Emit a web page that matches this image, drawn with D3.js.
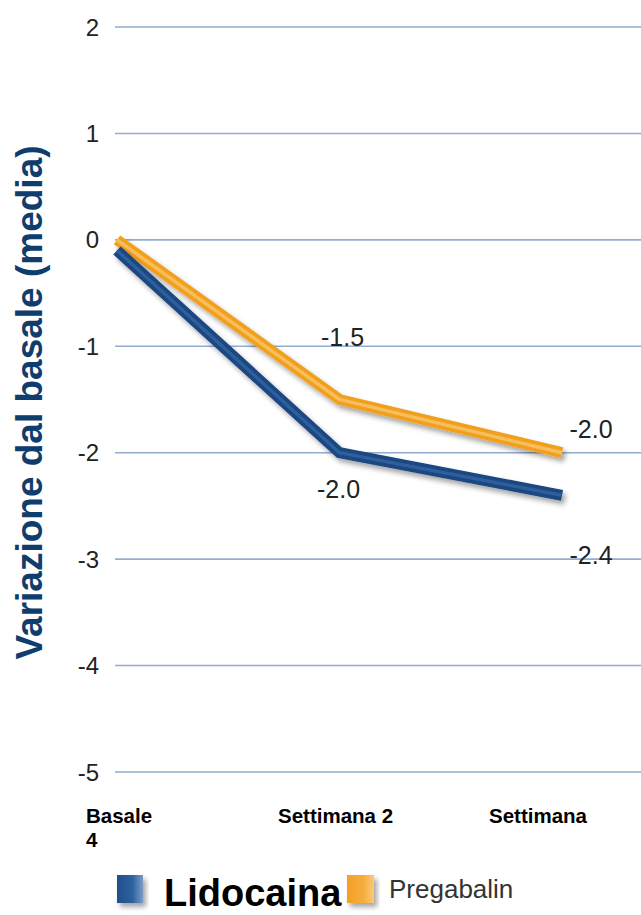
<!DOCTYPE html>
<html>
<head>
<meta charset="utf-8">
<script src="https://cdn.jsdelivr.net/npm/d3@7/dist/d3.min.js"></script>
<style>
  html, body { margin: 0; padding: 0; background: #fff; }
  svg { display: block; }
</style>
</head>
<body>
<script>
// Time points and mean change from baseline for each treatment
const categories = ["Basale", "Settimana 2", "Settimana 4"];
const lidocaina = [-0.1, -2.0, -2.4];
const pregabalin = [0.0, -1.5, -2.0];
const yTicks = [2, 1, 0, -1, -2, -3, -4, -5];
// Axis labels as they are laid out (the last one wraps onto a second line)
const xLabelRow1 = ["Basale", "Settimana 2", "Settimana"];
const xLabelRow2 = ["4"];
const seriesNames = ["Lidocaina", "Pregabalin"];
const yTitle = "Variazione dal basale (media)";

const W = 641, H = 915;
const svg = d3.select("body").append("svg").attr("width", W).attr("height", H);
const defs = svg.append("defs");

const shadow = defs.append("filter").attr("id", "shadow")
  .attr("x", "-20%").attr("y", "-20%").attr("width", "140%").attr("height", "160%");
shadow.append("feDropShadow").attr("dx", 3).attr("dy", 4)
  .attr("stdDeviation", 2.5).attr("flood-color", "#000").attr("flood-opacity", 0.35);

const gBlue = defs.append("linearGradient").attr("id", "gBlue");
gBlue.append("stop").attr("offset", "0%").attr("stop-color", "#1f4f8c");
gBlue.append("stop").attr("offset", "60%").attr("stop-color", "#2f629f");
gBlue.append("stop").attr("offset", "100%").attr("stop-color", "#7d9cc6");
const gOrange = defs.append("linearGradient").attr("id", "gOrange");
gOrange.append("stop").attr("offset", "0%").attr("stop-color", "#f3a024");
gOrange.append("stop").attr("offset", "60%").attr("stop-color", "#f6ad3e");
gOrange.append("stop").attr("offset", "100%").attr("stop-color", "#fbc978");

const x = d3.scalePoint().domain(categories).range([117, 562]);
const y = d3.scaleLinear().domain([-5, 2]).range([772, 27]);

// Horizontal gridlines
svg.append("g").selectAll("line").data(yTicks).join("line")
  .attr("x1", 115).attr("x2", W)
  .attr("y1", d => y(d)).attr("y2", d => y(d))
  .attr("stroke", "#93acd0").attr("stroke-width", 1.6);

// Y tick labels
svg.append("g").selectAll("text").data(yTicks).join("text")
  .attr("x", 99).attr("y", d => y(d)).attr("dy", "0.36em")
  .attr("text-anchor", "end")
  .attr("font-family", "Liberation Sans, Arial, sans-serif")
  .attr("font-size", 24).attr("fill", "#222")
  .text(d => d);

// Y axis title
svg.append("text")
  .attr("transform", `translate(42,${(y(2) + y(-5)) / 2 + 3}) rotate(-90)`)
  .attr("text-anchor", "middle")
  .attr("font-family", "Liberation Sans, Arial, sans-serif")
  .attr("font-weight", "bold").attr("font-size", 37).attr("fill", "#0f3d6d")
  .text(yTitle);

// X labels
const xl = svg.append("g")
  .attr("font-family", "Liberation Sans, Arial, sans-serif")
  .attr("font-weight", "bold").attr("font-size", 20.5).attr("fill", "#000");
xl.selectAll("text.r1").data(xLabelRow1).join("text").attr("class", "r1")
  .attr("x", (d, i) => [86, 278, 489][i]).attr("y", 823).text(d => d);
xl.selectAll("text.r2").data(xLabelRow2).join("text").attr("class", "r2")
  .attr("x", 86).attr("y", 847).text(d => d);

// Lines
const line = d3.line().x((d, i) => x(categories[i])).y(d => y(d));
const series = [
  { values: pregabalin, outer: "#f0a01c", inner: "#f8bd5c" },
  { values: lidocaina, outer: "#1a4681", inner: "#2d5f9c" }
];
series.forEach(s => {
  const g = svg.append("g").attr("filter", "url(#shadow)");
  g.append("path").attr("d", line(s.values)).attr("fill", "none")
    .attr("stroke", s.outer).attr("stroke-width", 11).attr("stroke-linejoin", "miter");
  g.append("path").attr("d", line(s.values)).attr("fill", "none")
    .attr("stroke", s.inner).attr("stroke-width", 3.5).attr("stroke-linejoin", "miter");
});

// Value labels
const labelFont = "Liberation Sans, Arial, sans-serif";
const valueLabels = [
  { i: 1, v: pregabalin[1], dx: 3, dy: -54 },
  { i: 2, v: pregabalin[2], dx: 29, dy: -15 },
  { i: 1, v: lidocaina[1], dx: -1, dy: 45 },
  { i: 2, v: lidocaina[2], dx: 29, dy: 69 }
];
svg.append("g").selectAll("text").data(valueLabels).join("text")
  .attr("x", d => x(categories[d.i]) + d.dx)
  .attr("y", d => y(d.v) + d.dy)
  .attr("text-anchor", "middle")
  .attr("font-family", labelFont).attr("font-size", 25).attr("fill", "#222")
  .text(d => d3.format(".1f")(d.v).replace("−", "-"));

// Legend
const lg = svg.append("g");
lg.append("rect").attr("x", 117).attr("y", 875).attr("width", 26).attr("height", 28)
  .attr("fill", "url(#gBlue)").attr("filter", "url(#shadow)");
lg.append("text").attr("x", 164).attr("y", 906)
  .attr("font-family", labelFont).attr("font-weight", "bold")
  .attr("font-size", 38).attr("fill", "#000").text(seriesNames[0]);
lg.append("rect").attr("x", 347).attr("y", 875).attr("width", 27).attr("height", 28)
  .attr("fill", "url(#gOrange)").attr("filter", "url(#shadow)");
lg.append("text").attr("x", 389).attr("y", 898)
  .attr("font-family", labelFont)
  .attr("font-size", 26).attr("fill", "#333").text(seriesNames[1]);
</script>
</body>
</html>
